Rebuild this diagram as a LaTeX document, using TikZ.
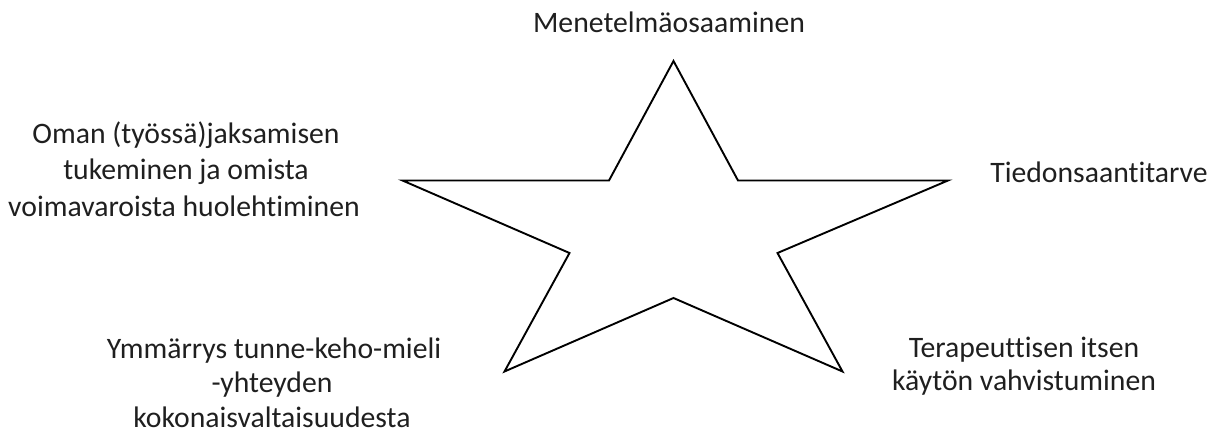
\documentclass[tikz,border=0pt]{standalone}
\usepackage{fontspec}
\setmainfont{Carlito}[Ligatures={NoCommon}]
\begin{document}
\begin{tikzpicture}[x=1pt,y=-1pt,
  lbl/.style={anchor=base,inner sep=0pt,font=\fontsize{29.7}{36}\selectfont,text=black!88},
  starline/.style={draw=black,line width=1.9pt,line join=miter,fill=white}]
\useasboundingbox (0,0) rectangle (1215,436);
% star points
\coordinate (pT) at (673.5,61);
\coordinate (iTR) at (738,180.5);
\coordinate (pR) at (948,180.5);
\coordinate (iR) at (777.5,253);
\coordinate (pBR) at (842.5,371.5);
\coordinate (iB) at (673.5,298);
\coordinate (pBL) at (504.5,371.5);
\coordinate (iL) at (569.5,253);
\coordinate (pL) at (402.5,180.5);
\coordinate (iTL) at (609,180.5);
\draw[starline] (pT) -- (iTR) -- (pR) -- (iR) -- (pBR) -- (iB) -- (pBL) -- (iL) -- (pL) -- (iTL) -- cycle;
% labels
\node[lbl] (top) at (669,33) {Menetelmäosaaminen};
\node[lbl] (l1) at (186,143) {Oman (työssä)jaksamisen};
\node[lbl] (l2) at (186,179.5) {tukeminen ja omista};
\node[lbl] (l3) at (184,216) {voimavaroista huolehtiminen};
\node[lbl] (r1) at (1099,182) {Tiedonsaantitarve};
\node[lbl] (bl1) at (274,358) {Ymmärrys tunne-keho-mieli};
\node[lbl] (bl2) at (272,392.5) {-yhteyden};
\node[lbl] (bl3) at (272,427) {kokonaisvaltaisuudesta};
\node[lbl] (br1) at (1024,357) {Terapeuttisen itsen};
\node[lbl] (br2) at (1024,390.5) {käytön vahvistuminen};
\end{tikzpicture}
\end{document}
